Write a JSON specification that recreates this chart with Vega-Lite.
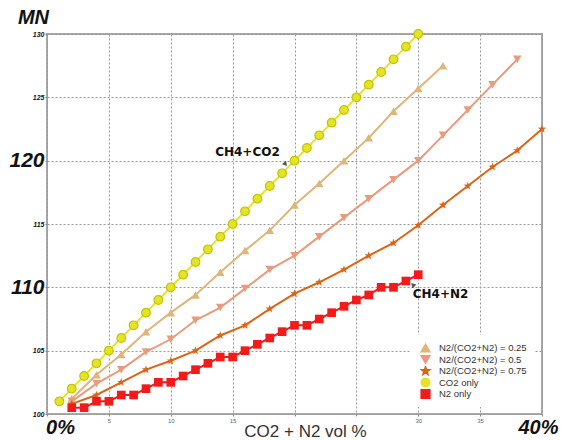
{
  "$schema": "https://vega.github.io/schema/vega-lite/v6.json",
  "width": 495,
  "height": 380,
  "autosize": "none",
  "padding": {"left": 47, "top": 34, "right": 24, "bottom": 26},
  "background": "white",
  "config": {
    "view": {"stroke": "#a8a8a8", "strokeWidth": 2},
    "font": "Liberation Sans"
  },
  "datasets": {
    "curves": [
      {"series": "N2/(CO2+N2) = 0.25", "x": 2, "y": 101.2},
      {"series": "N2/(CO2+N2) = 0.25", "x": 4, "y": 103.1},
      {"series": "N2/(CO2+N2) = 0.25", "x": 6, "y": 104.7},
      {"series": "N2/(CO2+N2) = 0.25", "x": 8, "y": 106.5},
      {"series": "N2/(CO2+N2) = 0.25", "x": 10, "y": 108},
      {"series": "N2/(CO2+N2) = 0.25", "x": 12, "y": 109.4},
      {"series": "N2/(CO2+N2) = 0.25", "x": 14, "y": 111.2},
      {"series": "N2/(CO2+N2) = 0.25", "x": 16, "y": 112.9},
      {"series": "N2/(CO2+N2) = 0.25", "x": 18, "y": 114.5},
      {"series": "N2/(CO2+N2) = 0.25", "x": 20, "y": 116.5},
      {"series": "N2/(CO2+N2) = 0.25", "x": 22, "y": 118.2},
      {"series": "N2/(CO2+N2) = 0.25", "x": 24, "y": 120},
      {"series": "N2/(CO2+N2) = 0.25", "x": 26, "y": 121.8},
      {"series": "N2/(CO2+N2) = 0.25", "x": 28, "y": 123.9},
      {"series": "N2/(CO2+N2) = 0.25", "x": 30, "y": 125.7},
      {"series": "N2/(CO2+N2) = 0.25", "x": 32, "y": 127.5},
      {"series": "N2/(CO2+N2) = 0.5", "x": 2, "y": 101},
      {"series": "N2/(CO2+N2) = 0.5", "x": 4, "y": 102.4},
      {"series": "N2/(CO2+N2) = 0.5", "x": 6, "y": 103.5},
      {"series": "N2/(CO2+N2) = 0.5", "x": 8, "y": 104.9},
      {"series": "N2/(CO2+N2) = 0.5", "x": 10, "y": 105.9},
      {"series": "N2/(CO2+N2) = 0.5", "x": 12, "y": 107.4},
      {"series": "N2/(CO2+N2) = 0.5", "x": 14, "y": 108.4},
      {"series": "N2/(CO2+N2) = 0.5", "x": 16, "y": 109.9},
      {"series": "N2/(CO2+N2) = 0.5", "x": 18, "y": 111.4},
      {"series": "N2/(CO2+N2) = 0.5", "x": 20, "y": 112.5},
      {"series": "N2/(CO2+N2) = 0.5", "x": 22, "y": 114},
      {"series": "N2/(CO2+N2) = 0.5", "x": 24, "y": 115.5},
      {"series": "N2/(CO2+N2) = 0.5", "x": 26, "y": 117},
      {"series": "N2/(CO2+N2) = 0.5", "x": 28, "y": 118.5},
      {"series": "N2/(CO2+N2) = 0.5", "x": 30, "y": 120},
      {"series": "N2/(CO2+N2) = 0.5", "x": 32, "y": 122},
      {"series": "N2/(CO2+N2) = 0.5", "x": 34, "y": 124},
      {"series": "N2/(CO2+N2) = 0.5", "x": 36, "y": 126},
      {"series": "N2/(CO2+N2) = 0.5", "x": 38, "y": 128},
      {"series": "N2/(CO2+N2) = 0.75", "x": 2, "y": 100.8},
      {"series": "N2/(CO2+N2) = 0.75", "x": 4, "y": 101.5},
      {"series": "N2/(CO2+N2) = 0.75", "x": 6, "y": 102.5},
      {"series": "N2/(CO2+N2) = 0.75", "x": 8, "y": 103.5},
      {"series": "N2/(CO2+N2) = 0.75", "x": 10, "y": 104.2},
      {"series": "N2/(CO2+N2) = 0.75", "x": 12, "y": 105},
      {"series": "N2/(CO2+N2) = 0.75", "x": 14, "y": 106.2},
      {"series": "N2/(CO2+N2) = 0.75", "x": 16, "y": 107},
      {"series": "N2/(CO2+N2) = 0.75", "x": 18, "y": 108.3},
      {"series": "N2/(CO2+N2) = 0.75", "x": 20, "y": 109.5},
      {"series": "N2/(CO2+N2) = 0.75", "x": 22, "y": 110.4},
      {"series": "N2/(CO2+N2) = 0.75", "x": 24, "y": 111.4},
      {"series": "N2/(CO2+N2) = 0.75", "x": 26, "y": 112.5},
      {"series": "N2/(CO2+N2) = 0.75", "x": 28, "y": 113.5},
      {"series": "N2/(CO2+N2) = 0.75", "x": 30, "y": 114.9},
      {"series": "N2/(CO2+N2) = 0.75", "x": 32, "y": 116.5},
      {"series": "N2/(CO2+N2) = 0.75", "x": 34, "y": 118},
      {"series": "N2/(CO2+N2) = 0.75", "x": 36, "y": 119.5},
      {"series": "N2/(CO2+N2) = 0.75", "x": 38, "y": 120.8},
      {"series": "N2/(CO2+N2) = 0.75", "x": 40, "y": 122.5},
      {"series": "CO2 only", "x": 1, "y": 101},
      {"series": "CO2 only", "x": 2, "y": 102},
      {"series": "CO2 only", "x": 3, "y": 103},
      {"series": "CO2 only", "x": 4, "y": 104},
      {"series": "CO2 only", "x": 5, "y": 105},
      {"series": "CO2 only", "x": 6, "y": 106},
      {"series": "CO2 only", "x": 7, "y": 107},
      {"series": "CO2 only", "x": 8, "y": 108},
      {"series": "CO2 only", "x": 9, "y": 109},
      {"series": "CO2 only", "x": 10, "y": 110},
      {"series": "CO2 only", "x": 11, "y": 111},
      {"series": "CO2 only", "x": 12, "y": 112},
      {"series": "CO2 only", "x": 13, "y": 113},
      {"series": "CO2 only", "x": 14, "y": 114},
      {"series": "CO2 only", "x": 15, "y": 115},
      {"series": "CO2 only", "x": 16, "y": 116},
      {"series": "CO2 only", "x": 17, "y": 117},
      {"series": "CO2 only", "x": 18, "y": 118},
      {"series": "CO2 only", "x": 19, "y": 119},
      {"series": "CO2 only", "x": 20, "y": 120},
      {"series": "CO2 only", "x": 21, "y": 121},
      {"series": "CO2 only", "x": 22, "y": 122},
      {"series": "CO2 only", "x": 23, "y": 123},
      {"series": "CO2 only", "x": 24, "y": 124},
      {"series": "CO2 only", "x": 25, "y": 125},
      {"series": "CO2 only", "x": 26, "y": 126},
      {"series": "CO2 only", "x": 27, "y": 127},
      {"series": "CO2 only", "x": 28, "y": 128},
      {"series": "CO2 only", "x": 29, "y": 129},
      {"series": "CO2 only", "x": 30, "y": 130},
      {"series": "N2 only", "x": 2, "y": 100.5},
      {"series": "N2 only", "x": 3, "y": 100.5},
      {"series": "N2 only", "x": 4, "y": 101},
      {"series": "N2 only", "x": 5, "y": 101},
      {"series": "N2 only", "x": 6, "y": 101.5},
      {"series": "N2 only", "x": 7, "y": 101.5},
      {"series": "N2 only", "x": 8, "y": 102},
      {"series": "N2 only", "x": 9, "y": 102.5},
      {"series": "N2 only", "x": 10, "y": 102.5},
      {"series": "N2 only", "x": 11, "y": 103},
      {"series": "N2 only", "x": 12, "y": 103.5},
      {"series": "N2 only", "x": 13, "y": 104},
      {"series": "N2 only", "x": 14, "y": 104.5},
      {"series": "N2 only", "x": 15, "y": 104.5},
      {"series": "N2 only", "x": 16, "y": 105},
      {"series": "N2 only", "x": 17, "y": 105.5},
      {"series": "N2 only", "x": 18, "y": 106},
      {"series": "N2 only", "x": 19, "y": 106.5},
      {"series": "N2 only", "x": 20, "y": 107},
      {"series": "N2 only", "x": 21, "y": 107},
      {"series": "N2 only", "x": 22, "y": 107.5},
      {"series": "N2 only", "x": 23, "y": 108},
      {"series": "N2 only", "x": 24, "y": 108.5},
      {"series": "N2 only", "x": 25, "y": 109},
      {"series": "N2 only", "x": 26, "y": 109.4},
      {"series": "N2 only", "x": 27, "y": 110},
      {"series": "N2 only", "x": 28, "y": 110},
      {"series": "N2 only", "x": 29, "y": 110.5},
      {"series": "N2 only", "x": 30, "y": 111}
    ],
    "notes": [
      {"label": "CH4+CO2", "x": 16.2, "y": 120.66},
      {"label": "CH4+N2", "x": 31.8, "y": 109.45}
    ],
    "arrows": [
      {"label": "CH4+CO2", "x": 19.25, "y": 119.82},
      {"label": "CH4+N2", "x": 29.56, "y": 110.2}
    ]
  },
  "encoding": {
    "x": {
      "field": "x",
      "type": "quantitative",
      "scale": {"domain": [0, 40], "nice": false, "zero": false},
      "axis": {
        "values": [0, 5, 10, 15, 20, 25, 30, 35, 40],
        "title": "CO2 + N2 vol %",
        "titleFontSize": 17,
        "titleFontWeight": "normal",
        "titleColor": "#333333",
        "titleX": 258,
        "titleY": 22,
        "titleAlign": "center",
        "titleBaseline": "alphabetic",
        "grid": true,
        "gridDash": [2, 2],
        "gridColor": "#9a9a9a",
        "gridWidth": 1,
        "domain": false,
        "ticks": true,
        "tickSize": 2,
        "tickColor": "#888888",
        "labelFlush": false,
        "labelOverlap": false,
        "labelBaseline": "top",
        "labelPadding": 1,
        "labelExpr": "datum.value == 0 ? '0%' : datum.value == 40 ? '40%' : (datum.value == 20 || datum.value == 25) ? '' : datum.label",
        "labelFontSize": {"condition": {"test": "datum.value == 0 || datum.value == 40", "value": 20}, "value": 6},
        "labelFontWeight": {"condition": {"test": "datum.value == 0 || datum.value == 40", "value": "bold"}, "value": "normal"},
        "labelFontStyle": {"condition": {"test": "datum.value == 0 || datum.value == 40", "value": "italic"}, "value": "normal"},
        "labelColor": {"condition": {"test": "datum.value == 0 || datum.value == 40", "value": "#111111"}, "value": "#666666"},
        "labelOffset": {"condition": [{"test": "datum.value == 0", "value": 13}, {"test": "datum.value == 40", "value": -4}], "value": 0}
      }
    },
    "y": {
      "field": "y",
      "type": "quantitative",
      "scale": {"domain": [100, 130], "nice": false, "zero": false},
      "axis": {
        "values": [100, 105, 110, 115, 120, 125, 130],
        "title": "MN",
        "titleAngle": 0,
        "titleFontSize": 20,
        "titleFontWeight": "bold",
        "titleFontStyle": "italic",
        "titleColor": "#111111",
        "titleX": -14,
        "titleY": -17,
        "titleAlign": "center",
        "titleBaseline": "middle",
        "grid": true,
        "gridDash": [2, 2],
        "gridColor": "#9a9a9a",
        "gridWidth": 1,
        "domain": false,
        "ticks": true,
        "tickSize": 2,
        "tickColor": "#888888",
        "labelOverlap": false,
        "labelFlush": false,
        "labelPadding": 1,
        "labelFontStyle": "italic",
        "labelFontWeight": "bold",
        "labelColor": "#111111",
        "labelFontSize": {"condition": {"test": "datum.value == 110 || datum.value == 120", "value": 21}, "value": 7}
      }
    }
  },
  "layer": [
    {
      "data": {"name": "curves"},
      "mark": {"type": "line", "strokeWidth": 2},
      "encoding": {
        "color": {
          "field": "series",
          "type": "nominal",
          "scale": {
            "domain": ["N2/(CO2+N2) = 0.25", "N2/(CO2+N2) = 0.5", "N2/(CO2+N2) = 0.75", "CO2 only", "N2 only"],
            "range": ["#dfb57a", "#e99b7d", "#dd6415", "#e3e32a", "#f21a1a"]
          },
          "legend": {
            "title": null,
            "orient": "none",
            "legendX": 363,
            "legendY": 301,
            "padding": 8,
            "fillColor": "white",
            "symbolSize": 70,
            "symbolOffset": 2,
            "symbolStrokeWidth": 1.5,
            "labelOffset": 8,
            "clipHeight": 10,
            "rowPadding": 1.5,
            "labelFontSize": 9.5,
            "labelColor": "#333333",
            "labelFont": "Liberation Sans"
          }
        }
      }
    },
    {
      "data": {"name": "curves"},
      "mark": {"type": "point", "filled": true, "opacity": 1},
      "encoding": {
        "color": {"field": "series", "type": "nominal"},
        "shape": {
          "field": "series",
          "type": "nominal",
          "scale": {
            "domain": ["N2/(CO2+N2) = 0.25", "N2/(CO2+N2) = 0.5", "N2/(CO2+N2) = 0.75", "CO2 only", "N2 only"],
            "range": ["triangle-up", "triangle-down", "M0,-1L0.235,-0.324L0.951,-0.309L0.38,0.124L0.588,0.809L0,0.4L-0.588,0.809L-0.38,0.124L-0.951,-0.309L-0.235,-0.324Z", "circle", "square"]
          },
          "legend": null
        },
        "size": {
          "field": "series",
          "type": "nominal",
          "scale": {
            "domain": ["N2/(CO2+N2) = 0.25", "N2/(CO2+N2) = 0.5", "N2/(CO2+N2) = 0.75", "CO2 only", "N2 only"],
            "range": [75, 75, 130, 30, 60]
          },
          "legend": null
        },
        "stroke": {"condition": {"test": "datum.series == 'CO2 only'", "value": "#c4c400"}, "value": null},
        "strokeWidth": {"value": 1.2}
      }
    },
    {
      "data": {"name": "arrows"},
      "transform": [{"filter": "datum.label == 'CH4+CO2'"}],
      "mark": {"type": "point", "shape": "triangle-up", "filled": true, "color": "#111111", "size": 30, "angle": 20}
    },
    {
      "data": {"name": "arrows"},
      "transform": [{"filter": "datum.label == 'CH4+N2'"}],
      "mark": {"type": "point", "shape": "triangle-up", "filled": true, "color": "#111111", "size": 30, "angle": -45}
    },
    {
      "data": {"name": "notes"},
      "mark": {"type": "text", "font": "DejaVu Sans", "fontWeight": "bold", "fontSize": 12, "color": "#111111", "align": "center", "baseline": "middle"},
      "encoding": {"text": {"field": "label"}}
    }
  ]
}
